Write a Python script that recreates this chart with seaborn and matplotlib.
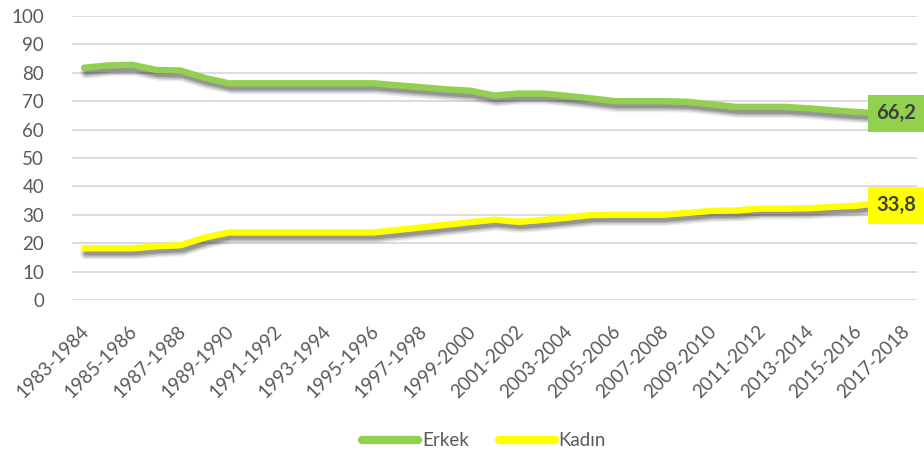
import matplotlib
matplotlib.use("Agg")
import matplotlib.pyplot as plt
import matplotlib.patheffects as pe
import matplotlib.transforms as mtransforms
import numpy as np
import pandas as pd
import seaborn as sns

# Academic years
years = [f"{y}-{y + 1}" for y in range(1983, 2018)]

# Share (%) by gender
erkek = [81.8, 82.6, 82.8, 81.0, 80.8, 78.2, 76.3, 76.3, 76.3, 76.3,
         76.3, 76.3, 76.3, 75.6, 74.9, 74.2, 73.7, 72.0, 72.7, 72.7,
         71.9, 71.0, 70.0, 70.0, 70.0, 69.8, 68.9, 68.0, 68.0, 68.0,
         67.5, 66.8, 66.2, 65.8, 66.2]
kadin = [18.2, 18.2, 18.2, 18.9, 19.3, 22.0, 23.8, 23.8, 23.8, 23.8,
         23.8, 23.8, 23.8, 24.7, 25.6, 26.5, 27.4, 28.3, 27.5, 28.2,
         29.0, 29.9, 30.0, 30.0, 30.0, 30.7, 31.4, 31.5, 32.2, 32.2,
         32.3, 32.8, 33.2, 34.3, 33.8]

series_names = ["Erkek", "Kadın"]
series_colors = ["#92D050", "#FFFF00"]
yticks = [0, 10, 20, 30, 40, 50, 60, 70, 80, 90, 100]

df = pd.DataFrame({
    "idx": list(range(len(years))) * 2,
    "value": erkek + kadin,
    "series": [series_names[0]] * len(years) + [series_names[1]] * len(years),
})

sns.set_theme(style="white")
plt.rcParams["font.family"] = ["Lato", "DejaVu Sans"]

fig = plt.figure(figsize=(9.24, 4.57), dpi=100)
ax = fig.add_axes([72 / 924, 1 - 300 / 457, (917 - 72) / 924, (300 - 16) / 457])

# Soft drop shadow under each line, built from a few stacked strokes
shadow = [
    pe.SimpleLineShadow(offset=(1.5, -3.5), shadow_color="#000000", alpha=0.07, linewidth=9.0),
    pe.SimpleLineShadow(offset=(1.5, -3.5), shadow_color="#000000", alpha=0.10, linewidth=7.0),
    pe.SimpleLineShadow(offset=(1.5, -3.5), shadow_color="#000000", alpha=0.14, linewidth=5.0),
    pe.SimpleLineShadow(offset=(1.5, -3.5), shadow_color="#000000", alpha=0.18, linewidth=3.0),
    pe.Normal(),
]

sns.lineplot(data=df, x="idx", y="value", hue="series",
             palette=dict(zip(series_names, series_colors)),
             linewidth=4.6, ax=ax, legend=False)
for line in ax.get_lines():
    line.set_solid_capstyle("round")
    line.set_solid_joinstyle("round")
    line.set_path_effects(shadow)

ax.set_xlim(-0.5, len(years) - 0.5)
ax.set_ylim(0, 100)
ax.set_yticks(yticks)
ax.set_yticklabels([str(t) for t in yticks])
ax.set_xticks(range(0, len(years), 2))
ax.set_xticklabels(years[::2], rotation=45, ha="right")
ax.set_xlabel("")
ax.set_ylabel("")

ax.grid(axis="y", color="#D9D9D9", linewidth=1.3)
ax.grid(axis="x", visible=False)
for s in ax.spines.values():
    s.set_visible(False)
ax.tick_params(axis="both", length=0, colors="#595959", labelsize=13.5)
ax.tick_params(axis="y", pad=20)
ax.tick_params(axis="x", pad=16)

shift = mtransforms.ScaledTranslation(6 / 72, 0, fig.dpi_scale_trans)
for lbl in ax.get_xticklabels():
    lbl.set_transform(lbl.get_transform() + shift)

# End-of-series value labels
for vals, color in zip([erkek, kadin], series_colors):
    ax.annotate(f"{vals[-1]:.1f}".replace(".", ","),
                xy=(len(years) - 1, vals[-1]), xytext=(-20.5, -1),
                textcoords="offset points", ha="left", va="center",
                fontsize=14.5, fontweight="bold", color="#404040",
                bbox=dict(boxstyle="square,pad=0.42", fc=color, ec="none"),
                annotation_clip=False, zorder=5)

handles = [plt.Line2D([0], [0], color=c, linewidth=6, solid_capstyle="round")
           for c in series_colors]
fig.legend(handles, series_names, loc="center", bbox_to_anchor=(484 / 924, 1 - 441 / 457),
           ncol=2, frameon=False, fontsize=13.5, handlelength=3.0,
           handletextpad=0.2, columnspacing=1.6, labelcolor="#595959")

fig.savefig("out.png", dpi=100)
